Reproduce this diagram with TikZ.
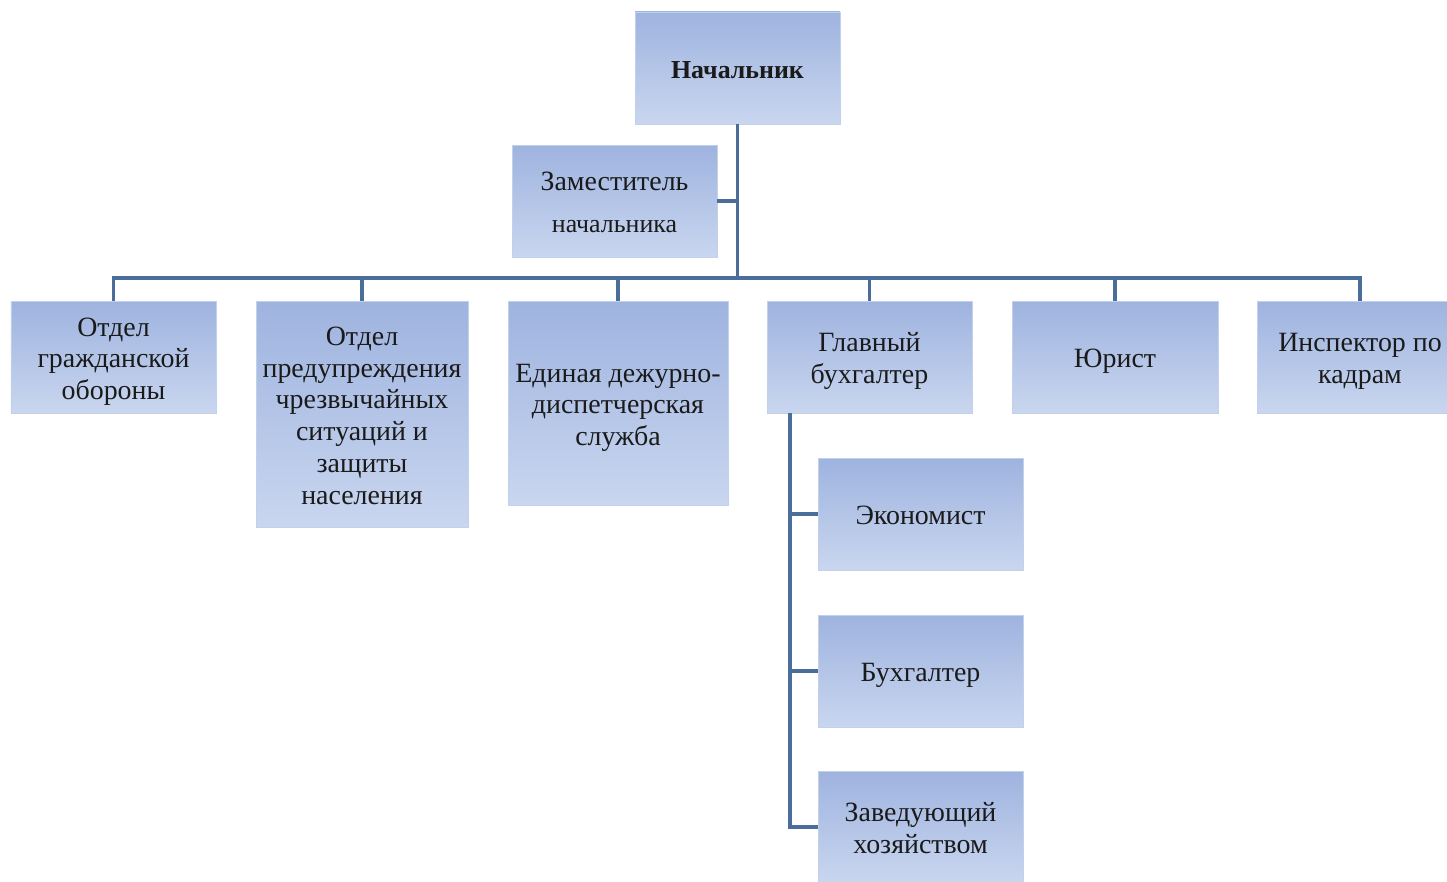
\documentclass[tikz,border=0pt]{standalone}
\usepackage{fontspec}
\setmainfont{Liberation Serif}
\definecolor{lineblue}{HTML}{4A6D99}
\definecolor{boxtop}{HTML}{9EB3DF}
\definecolor{boxbot}{HTML}{C9D6EF}
\definecolor{boxedge}{HTML}{C3D0EA}
\definecolor{txt}{HTML}{1A1A1A}
\newcommand{\lowtext}[1]{\raisebox{-4.5bp}[\height][\depth]{\begin{tabular}{@{}c@{}}#1\end{tabular}}}
\tikzset{
  orgbox/.style={rectangle, draw=boxedge, line width=0.8bp, top color=boxtop, bottom color=boxbot,
    align=center, text=txt, inner sep=0pt, font=\fontsize{28}{32}\selectfont},
  conn/.style={draw=lineblue, line width=3.2bp}
}
\begin{document}
\begin{tikzpicture}[x=1bp, y=-1bp]
\useasboundingbox (0,0) rectangle (1447,881);
\fill[white] (0,0) rectangle (1447,881);

% boxes
\node[orgbox, minimum width=205bp, minimum height=112bp, font=\bfseries\fontsize{26}{30}\selectfont] (chief) at (737.5,68) {\lowtext{Начальник}};
\node[orgbox, minimum width=205bp, minimum height=112bp] (dep) at (614.5,201) {\lowtext{Заместитель\\[10bp]{\fontsize{26}{30}\selectfont начальника}}};

\node[orgbox, minimum width=205bp, minimum height=112bp] (gd) at (113.5,357) {\lowtext{Отдел\\гражданской\\обороны}};
\node[orgbox, minimum width=212bp, minimum height=226bp] (pr) at (362,414) {\lowtext{Отдел\\предупреждения\\чрезвычайных\\ситуаций и\\защиты\\населения}};
\node[orgbox, minimum width=220bp, minimum height=204bp] (edds) at (618,403) {\lowtext{Единая дежурно-\\диспетчерская\\служба}};
\node[orgbox, minimum width=205bp, minimum height=112bp] (gb) at (869.5,357) {\lowtext{Главный\\бухгалтер}};
\node[orgbox, minimum width=206bp, minimum height=112bp] (jur) at (1115,357) {\lowtext{Юрист}};
\node[orgbox, minimum width=206bp, minimum height=112bp] (insp) at (1360,357) {\lowtext{Инспектор по\\кадрам}};

\node[orgbox, minimum width=205bp, minimum height=112bp] (ek) at (920.5,514) {\lowtext{Экономист}};
\node[orgbox, minimum width=205bp, minimum height=112bp] (bu) at (920.5,671) {\lowtext{Бухгалтер}};
\node[orgbox, minimum width=205bp, minimum height=112bp] (zav) at (920.5,827) {\lowtext{Заведующий\\хозяйством}};

% connectors
\coordinate (busy) at (0,278);
\coordinate (sub) at (790,413);
\draw[conn] (chief.south) -- (chief.south |- busy);
\draw[conn] (dep.east) -- (dep.east -| chief.south);
\draw[conn] (gd.north) |- (busy -| insp.north) -- (insp.north);
\draw[conn] (pr.north) -- (pr.north |- busy);
\draw[conn] (edds.north) -- (edds.north |- busy);
\draw[conn] (gb.north) -- (gb.north |- busy);
\draw[conn] (jur.north) -- (jur.north |- busy);
\draw[conn] (sub) |- (zav.west);
\draw[conn] (sub |- ek.west) -- (ek.west);
\draw[conn] (sub |- bu.west) -- (bu.west);
\end{tikzpicture}
\end{document}
